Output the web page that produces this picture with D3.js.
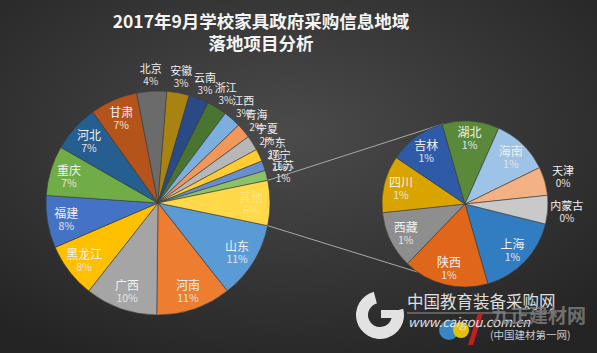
<!DOCTYPE html>
<html lang="zh">
<head>
<meta charset="utf-8">
<title>2017年9月学校家具政府采购信息地域落地项目分析</title>
<script src="https://d3js.org/d3.v7.min.js"></script>
<style>
  html, body { margin: 0; padding: 0; background: #333; }
  svg { display: block; font-family: "Noto Sans CJK SC", "Noto Sans", sans-serif; }
</style>
</head>
<body>
<script>
// data (counts, labels give the rounded share)
var titleLines = ["2017年9月学校家具政府采购信息地域", "落地项目分析"];

var mainNames = ["山东", "河南", "广西", "黑龙江", "福建", "重庆", "河北", "甘肃", "北京",
                 "安徽", "云南", "浙江", "江西", "青海", "宁夏", "广东", "辽宁", "江苏"];
var mainValues = [31, 30, 29, 22, 21, 20, 19, 19, 12, 9, 8, 8, 7, 6, 6, 5, 4, 4];

var restNames = ["上海", "陕西", "西藏", "四川", "吉林", "湖北", "海南", "天津", "内蒙古"];
var restValues = [3, 3, 2, 2, 2, 2, 2, 1, 1];
var otherName = "其他";

var mainColors = ["#5b9bd5", "#ed7d31", "#a5a5a5", "#ffc000", "#4472c4", "#70ad47",
                  "#255e91", "#b5541a", "#6b6b6b", "#a98312", "#2a4a86", "#4a7531",
                  "#7cafdd", "#f1975a", "#b7b7b7", "#ffcd33", "#698ed0", "#8cc168"];
var otherColor = "#ffd94a";
var restColors = ["#327dc2", "#e0661a", "#8e8e8e", "#d9a400", "#2f5aa8", "#5a8a39",
                  "#9dc3e6", "#f4b183", "#c9c9c9"];

// layout
var w = 597, h = 353;
var c1 = [158, 203], r1 = 112;
var c2 = [465, 204], r2 = 83;
var rad = Math.PI / 180;

var total = d3.sum(mainValues) + d3.sum(restValues);
var otherValue = d3.sum(restValues);
function pct(v) { return Math.round(v / total * 100) + "%"; }

var svg = d3.select("body").append("svg")
    .attr("width", w)
    .attr("height", h);

// background
var defs = svg.append("defs");
var bg = defs.append("radialGradient")
    .attr("id", "bg")
    .attr("cx", "48%").attr("cy", "38%").attr("r", "72%");
bg.append("stop").attr("offset", "0%").attr("stop-color", "#4b4b4b");
bg.append("stop").attr("offset", "100%").attr("stop-color", "#242424");
svg.append("rect").attr("width", w).attr("height", h).attr("fill", "url(#bg)");

// title
svg.selectAll("text.title")
    .data(titleLines)
    .enter()
    .append("text")
    .attr("class", "title")
    .attr("x", 261)
    .attr("y", function(d, i) { return 28 + i * 22; })
    .attr("text-anchor", "middle")
    .attr("font-size", 17.5)
    .attr("font-weight", "bold")
    .attr("fill", "#f4f4f4")
    .text(function(d) { return d; });

// main pie: "other" slice centred at 3 o'clock
var mainData = mainNames.map(function(n, i) {
  return { name: n, value: mainValues[i], color: mainColors[i], faint: false };
});
mainData.push({ name: otherName, value: otherValue, color: otherColor, faint: true });

var otherSpan = otherValue / total * 2 * Math.PI;
var pie1 = d3.pie().sort(null).value(function(d) { return d.value; })
    .startAngle(Math.PI / 2 + otherSpan / 2)
    .endAngle(Math.PI / 2 + otherSpan / 2 + 2 * Math.PI);

var restData = restNames.map(function(n, i) {
  return { name: n, value: restValues[i], color: restColors[i], faint: false };
});
var pie2 = d3.pie().sort(null).value(function(d) { return d.value; })
    .startAngle(104 * rad)
    .endAngle(104 * rad + 2 * Math.PI);

// connector lines (drawn first so pies sit on top)
var arcs1 = pie1(mainData);
var oArc = arcs1[arcs1.length - 1];
function pt(c, r, a) { return [c[0] + r * Math.sin(a), c[1] - r * Math.cos(a)]; }
var lines = [
  [pt(c1, r1, oArc.startAngle), pt(c2, r2, -15 * rad)],
  [pt(c1, r1, oArc.endAngle), pt(c2, r2, 215 * rad)]
];
svg.selectAll("line.connector")
    .data(lines)
    .enter()
    .append("line")
    .attr("class", "connector")
    .attr("x1", function(d) { return d[0][0]; })
    .attr("y1", function(d) { return d[0][1]; })
    .attr("x2", function(d) { return d[1][0]; })
    .attr("y2", function(d) { return d[1][1]; })
    .attr("stroke", "#a8a8a8")
    .attr("stroke-width", 1);

function drawPie(arcs, c, r, inR, outR, minSpan) {
  var g = svg.append("g").attr("transform", "translate(" + c[0] + "," + c[1] + ")");
  var arc = d3.arc().innerRadius(0).outerRadius(r);

  g.selectAll("path")
      .data(arcs)
      .enter()
      .append("path")
      .attr("d", arc)
      .attr("fill", function(d) { return d.data.color; })
      .attr("stroke", "#3c3c3c")
      .attr("stroke-width", 0.6);

  var lab = g.selectAll("g.lab")
      .data(arcs)
      .enter()
      .append("g")
      .attr("class", "lab")
      .each(function(d) { d.inside = (d.endAngle - d.startAngle) >= minSpan; })
      .attr("transform", function(d) {
        var a = (d.startAngle + d.endAngle) / 2;
        var rr = d.inside ? inR : outR;
        return "translate(" + (rr * Math.sin(a)) + "," + (-rr * Math.cos(a)) + ")";
      });
  lab.append("text")
      .attr("text-anchor", "middle")
      .attr("y", -1)
      .attr("font-size", function(d) { return d.inside ? 12 : 11; })
      .attr("fill", function(d) { return d.data.faint ? "#ffe580" : "#f0f0f0"; })
      .text(function(d) { return d.data.name; });
  lab.append("text")
      .attr("text-anchor", "middle")
      .attr("y", 11)
      .attr("font-size", function(d) { return d.inside ? 10.5 : 10; })
      .attr("fill", function(d) { return d.data.faint ? "#ffe580" : "#e4e4e4"; })
      .text(function(d) { return pct(d.data.value); });
}

drawPie(arcs1, c1, r1, 93, 129, 20 * rad);
drawPie(pie2(restData), c2, r2, 66, 102, 30 * rad);

// watermark
var wm = svg.append("g").attr("opacity", 0.92);
wm.append("path")
    .attr("transform", "translate(380,315)")
    .attr("d", d3.arc().innerRadius(12).outerRadius(24).startAngle(75 * rad).endAngle(345 * rad))
    .attr("fill", "#f2f2f2");
wm.append("rect").attr("x", 381).attr("y", 310).attr("width", 17).attr("height", 8).attr("fill", "#f2f2f2");
wm.append("text")
    .attr("x", 407).attr("y", 308)
    .attr("font-size", 16.5)
    .attr("fill", "#eeeeee")
    .text("中国教育装备采购网");
wm.append("line")
    .attr("x1", 407).attr("x2", 557).attr("y1", 313).attr("y2", 313)
    .attr("stroke", "#bbbbbb").attr("stroke-width", 0.8);
wm.append("circle").attr("cx", 449).attr("cy", 330).attr("r", 10).attr("fill", "#3a8fd0");
wm.append("circle").attr("cx", 461).attr("cy", 330).attr("r", 8).attr("fill", "#f4d000");
wm.append("path").attr("d", "M468,345 L478,313 L483,313 L473,345 Z").attr("fill", "#d02020");
wm.append("text")
    .attr("x", 408).attr("y", 327)
    .attr("font-size", 13)
    .attr("font-style", "italic")
    .attr("fill", "#f0f0f0")
    .text("www.caigou.com.cn");
wm.append("text")
    .attr("x", 491).attr("y", 323)
    .attr("font-size", 19)
    .attr("font-weight", "bold")
    .attr("fill", "#8a8a8a")
    .attr("opacity", 0.8)
    .text("九正建材网");
wm.append("text")
    .attr("x", 490).attr("y", 339)
    .attr("font-size", 10.5)
    .attr("fill", "#d8d8d8")
    .text("(中国建材第一网)");
</script>
</body>
</html>
